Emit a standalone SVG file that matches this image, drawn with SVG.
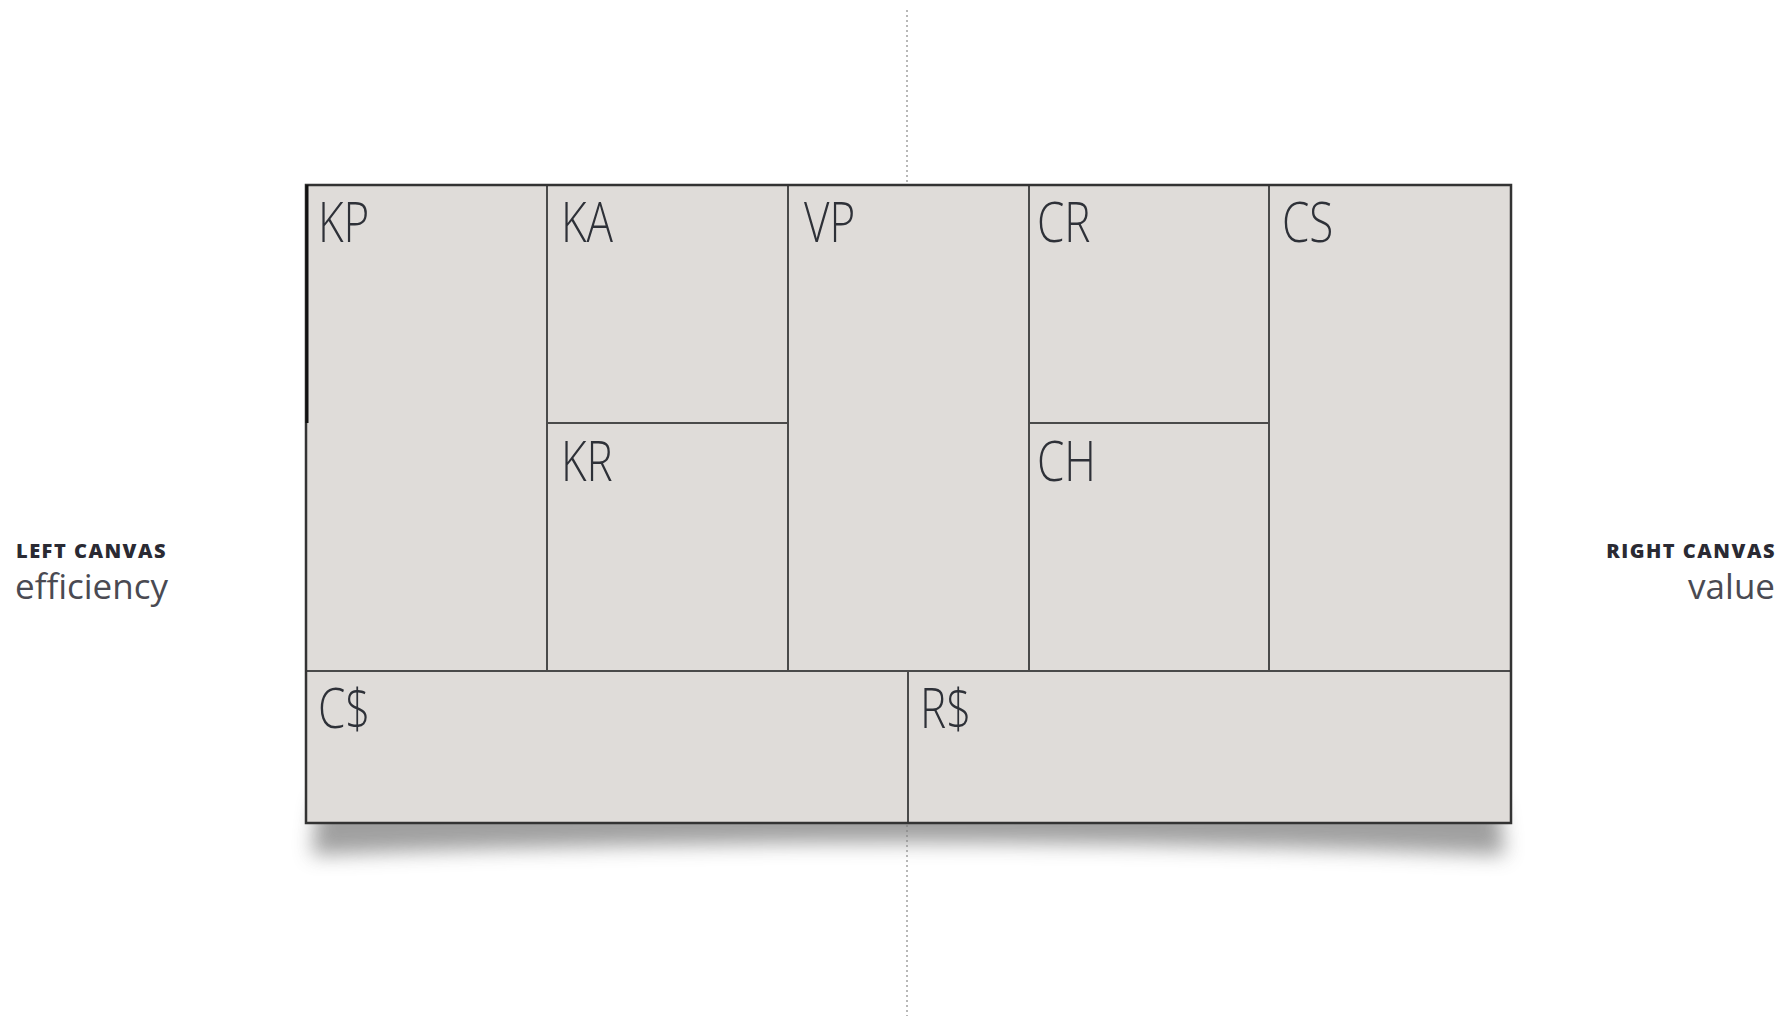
<svg xmlns="http://www.w3.org/2000/svg" width="1790" height="1016" viewBox="0 0 1790 1016">
<defs>
<style>
.cell{fill:#dfdcd9;stroke:#4a4a4a;stroke-width:2}
.lbl{font-family:"Open Sans","DejaVu Sans",sans-serif;font-weight:300;font-size:55px;fill:#2e3138}
.hd{font-family:"Open Sans","DejaVu Sans",sans-serif;font-weight:800;font-size:20px;letter-spacing:1.5px;fill:#2a2a33}
.sub{font-family:"Open Sans","DejaVu Sans",sans-serif;font-weight:400;font-size:35px;fill:#4a4a52}
</style>
<filter id="blur" x="-10%" y="-50%" width="120%" height="200%"><feGaussianBlur stdDeviation="10"/></filter>
</defs>
<rect width="1790" height="1016" fill="#ffffff"/>
<g id="divider">
<line x1="907" y1="10" x2="907" y2="1016" stroke="#b8b8b8" stroke-width="2" stroke-dasharray="2,3"/>
</g>
<path id="shadow" d="M318 800 L1498 800 L1505 855 Q908 830 312 855 Z" fill="#808080" opacity="0.75" filter="url(#blur)"/>
<g id="KP"><rect class="cell" x="306" y="185" width="241" height="486"/><text class="lbl" x="318" y="242" transform="translate(318 242) scale(0.8 1) translate(-318 -242)">KP</text></g>
<g id="KA"><rect class="cell" x="547" y="185" width="241" height="238"/><text class="lbl" x="561" y="242" transform="translate(561 242) scale(0.8 1) translate(-561 -242)">KA</text></g>
<g id="KR"><rect class="cell" x="547" y="423" width="241" height="248"/><text class="lbl" x="561" y="481" transform="translate(561 481) scale(0.8 1) translate(-561 -481)">KR</text></g>
<g id="VP"><rect class="cell" x="788" y="185" width="241" height="486"/><text class="lbl" x="804" y="242" transform="translate(804 242) scale(0.8 1) translate(-804 -242)">VP</text></g>
<g id="CR"><rect class="cell" x="1029" y="185" width="240" height="238"/><text class="lbl" x="1037" y="242" transform="translate(1037 242) scale(0.8 1) translate(-1037 -242)">CR</text></g>
<g id="CH"><rect class="cell" x="1029" y="423" width="240" height="248"/><text class="lbl" x="1037" y="481" transform="translate(1037 481) scale(0.8 1) translate(-1037 -481)">CH</text></g>
<g id="CS"><rect class="cell" x="1269" y="185" width="242" height="486"/><text class="lbl" x="1282" y="242" transform="translate(1282 242) scale(0.8 1) translate(-1282 -242)">CS</text></g>
<g id="Cdollar"><rect class="cell" x="306" y="671" width="602" height="152"/><text class="lbl" x="318" y="728" transform="translate(318 728) scale(0.8 1) translate(-318 -728)">C$</text></g>
<g id="Rdollar"><rect class="cell" x="908" y="671" width="603" height="152"/><text class="lbl" x="920" y="728" transform="translate(920 728) scale(0.8 1) translate(-920 -728)">R$</text></g>
<rect x="306" y="185" width="1205" height="638" fill="none" stroke="#333" stroke-width="2.5"/>
<line x1="307" y1="185" x2="307" y2="423" stroke="#111" stroke-width="3"/>
<g id="left-label"><text class="hd" x="16" y="558">LEFT CANVAS</text><text class="sub" x="15" y="599">efficiency</text></g>
<g id="right-label"><text class="hd" x="1776" y="558" text-anchor="end">RIGHT CANVAS</text><text class="sub" x="1775" y="599" text-anchor="end">value</text></g>
</svg>
